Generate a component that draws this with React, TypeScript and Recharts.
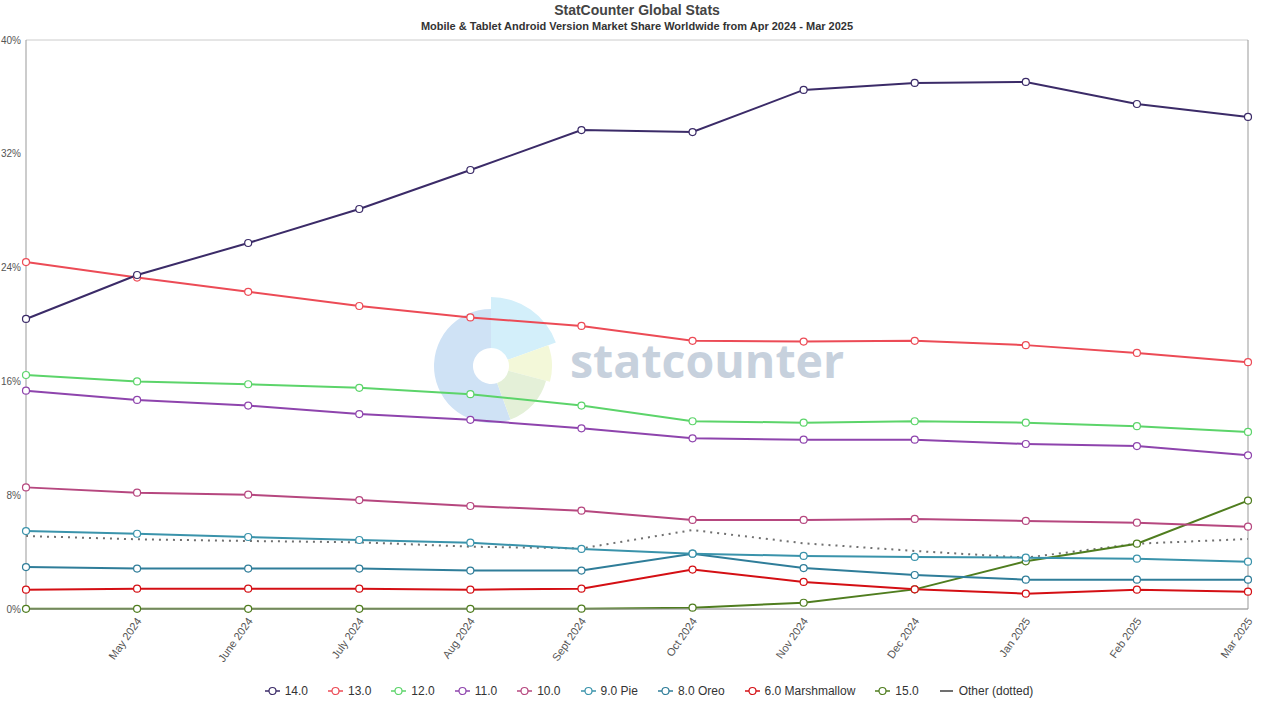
import React from 'react';
import { LineChart, Line, XAxis, YAxis, CartesianGrid } from 'recharts';

const months = ['Apr 2024', 'May 2024', 'June 2024', 'July 2024', 'Aug 2024', 'Sept 2024', 'Oct 2024', 'Nov 2024', 'Dec 2024', 'Jan 2025', 'Feb 2025', 'Mar 2025'];
const yTicks = [0, 8, 16, 24, 32, 40];

const v14 = [20.39, 23.48, 25.73, 28.12, 30.86, 33.67, 33.53, 36.49, 36.98, 37.05, 35.5, 34.59];
const v13 = [24.39, 23.3, 22.3, 21.3, 20.5, 19.9, 18.85, 18.8, 18.85, 18.55, 18.0, 17.35];
const v12 = [16.45, 16.0, 15.8, 15.55, 15.1, 14.3, 13.2, 13.1, 13.2, 13.1, 12.85, 12.45];
const v11 = [15.35, 14.7, 14.3, 13.7, 13.3, 12.7, 12.0, 11.9, 11.9, 11.6, 11.45, 10.8];
const v10 = [8.55, 8.18, 8.04, 7.66, 7.24, 6.91, 6.26, 6.26, 6.33, 6.19, 6.07, 5.79];
const v9 = [5.48, 5.29, 5.06, 4.85, 4.66, 4.22, 3.89, 3.73, 3.66, 3.61, 3.54, 3.33];
const v8 = [2.95, 2.84, 2.84, 2.84, 2.7, 2.7, 3.89, 2.88, 2.39, 2.06, 2.06, 2.06];
const v6 = [1.36, 1.43, 1.43, 1.43, 1.36, 1.43, 2.77, 1.9, 1.38, 1.08, 1.36, 1.22];
const v15 = [0.01, 0.01, 0.01, 0.01, 0.01, 0.02, 0.09, 0.44, 1.38, 3.35, 4.59, 7.62];
const vOther = [5.13, 4.9, 4.78, 4.69, 4.38, 4.26, 5.55, 4.62, 4.08, 3.61, 4.59, 4.92];

const series = [
  { key: 's14', name: '14.0', values: v14, color: '#3b2b68' },
  { key: 's13', name: '13.0', values: v13, color: '#ec4b56' },
  { key: 's12', name: '12.0', values: v12, color: '#5cd46a' },
  { key: 's11', name: '11.0', values: v11, color: '#8e44ad' },
  { key: 's10', name: '10.0', values: v10, color: '#b6477f' },
  { key: 's9', name: '9.0 Pie', values: v9, color: '#3a93ab' },
  { key: 's8', name: '8.0 Oreo', values: v8, color: '#2f7d99' },
  { key: 's6', name: '6.0 Marshmallow', values: v6, color: '#d40f14' },
  { key: 's15', name: '15.0', values: v15, color: '#4f7d1f' },
];
const other = { key: 'other', name: 'Other (dotted)', values: vOther, color: '#707070' };

const data = months.map((m, i) => {
  const row: Record<string, any> = { month: m };
  series.forEach((s) => (row[s.key] = s.values[i]));
  row[other.key] = other.values[i];
  return row;
});

const FONT = '"Liberation Sans", Arial, Helvetica, sans-serif';

const XTick = (props: any) => {
  const { x, y, payload, index } = props;
  if (index === 0) return <g />;
  const px = x + 5;
  const py = y + 12;
  return (
    <text x={px} y={py} textAnchor="end" fontSize={11} fill="#555" fontFamily={FONT} transform={`rotate(-55 ${px} ${py})`}>
      {payload.value}
    </text>
  );
};

function sector(cx: number, cy: number, r0: number, r1: number, a0: number, a1: number) {
  const rad = (a: number) => ((a - 90) * Math.PI) / 180;
  const p = (r: number, a: number) => `${cx + r * Math.cos(rad(a))},${cy + r * Math.sin(rad(a))}`;
  const large = a1 - a0 > 180 ? 1 : 0;
  return `M${p(r1, a0)} A${r1},${r1} 0 ${large} 1 ${p(r1, a1)} L${p(r0, a1)} A${r0},${r0} 0 ${large} 0 ${p(r0, a0)} Z`;
}

const Watermark = () => {
  const cx = 491;
  const cy = 366;
  return (
    <svg width={1280} height={720} style={{ position: 'absolute', left: 0, top: 0 }}>
      <path d={sector(cx, cy, 18, 57, 160, 360)} fill="#cfe2f5" />
      <path d={sector(cx, cy, 18, 69, 0, 70)} fill="#d3effa" />
      <path d={sector(cx, cy, 18, 61, 70, 105)} fill="#f3f8d9" />
      <path d={sector(cx, cy, 18, 57, 105, 160)} fill="#e4f0d8" />
      <text x={570} y={378} fontSize={46.5} fontWeight={700} fill="#c7d1dd" fontFamily='"Open Sans", sans-serif'>
        statcounter
      </text>
    </svg>
  );
};

const LegendIcon = ({ color, dotted }: { color: string; dotted?: boolean }) => (
  <svg width={15} height={10} style={{ marginRight: 5 }}>
    {dotted ? (
      <line x1={1} y1={5} x2={14} y2={5} stroke={color} strokeWidth={2} />
    ) : (
      <>
        <line x1={0} y1={5} x2={15} y2={5} stroke={color} strokeWidth={1.5} />
        <circle cx={7.5} cy={5} r={3.5} fill="#fff" stroke={color} strokeWidth={1.2} />
      </>
    )}
  </svg>
);

export default function App() {
  return (
    <div style={{ position: 'relative', width: 1280, height: 720, background: '#fff', fontFamily: FONT, overflow: 'hidden' }}>
      <style>{'body{margin:0}'}</style>
      <Watermark />
      <div style={{ position: 'absolute', left: 0, top: 0, width: 1274, textAlign: 'center', fontSize: 14, fontWeight: 700, color: '#444', lineHeight: '20px' }}>
        StatCounter Global Stats
      </div>
      <div style={{ position: 'absolute', left: 0, top: 18, width: 1274, textAlign: 'center', fontSize: 11, fontWeight: 700, color: '#333', lineHeight: '16px' }}>
        Mobile &amp; Tablet Android Version Market Share Worldwide from Apr 2024 - Mar 2025
      </div>
      <div style={{ position: 'absolute', left: 0, top: 0 }}>
        <LineChart width={1280} height={720} data={data} margin={{ top: 40, right: 31, bottom: 51, left: 0 }}>
          <CartesianGrid horizontal vertical={false} stroke="#cccccc" strokeDasharray="" />
          <XAxis
            dataKey="month"
            type="category"
            interval={0}
            height={60}
            tickSize={0}
            tickMargin={0}
            tickLine={false}
            axisLine={{ stroke: '#999' }}
            tick={<XTick />}
          />
          <YAxis
            yAxisId="left"
            domain={[0, 40]}
            ticks={yTicks}
            width={26}
            tickLine={false}
            tickSize={0}
            tickMargin={5}
            axisLine={{ stroke: '#999' }}
            tick={{ fontSize: 10, fill: '#555', fontFamily: FONT }}
            tickFormatter={(v: number) => `${v}%`}
          />
          <YAxis yAxisId="right" orientation="right" domain={[0, 40]} ticks={yTicks} width={1} tick={false} tickLine={false} axisLine={{ stroke: '#999' }} />
          <Line
            yAxisId="left"
            dataKey={other.key}
            name={other.name}
            type="linear"
            stroke={other.color}
            strokeWidth={2}
            strokeDasharray="2 5"
            dot={false}
            activeDot={false}
            isAnimationActive={false}
          />
          {series
            .slice()
            .reverse()
            .map((s) => (
              <Line
                key={s.key}
                yAxisId="left"
                dataKey={s.key}
                name={s.name}
                type="linear"
                stroke={s.color}
                strokeWidth={2}
                dot={{ r: 3.5, fill: '#fff', stroke: s.color, strokeWidth: 1.2 }}
                activeDot={false}
                isAnimationActive={false}
              />
            ))}
        </LineChart>
      </div>
      <div
        style={{
          position: 'absolute',
          left: 18,
          top: 683,
          width: 1262,
          display: 'flex',
          justifyContent: 'center',
          alignItems: 'center',
          fontSize: 12,
          color: '#333',
          lineHeight: '16px',
        }}
      >
        {series.map((s) => (
          <div key={s.key} style={{ display: 'flex', alignItems: 'center', marginRight: 20 }}>
            <LegendIcon color={s.color} />
            <span>{s.name}</span>
          </div>
        ))}
        <div style={{ display: 'flex', alignItems: 'center' }}>
          <LegendIcon color={other.color} dotted />
          <span>{other.name}</span>
        </div>
      </div>
    </div>
  );
}
